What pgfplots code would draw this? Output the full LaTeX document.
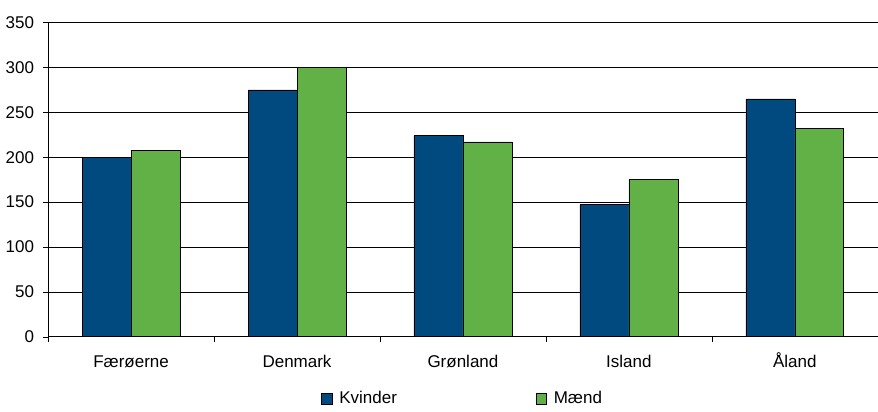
\documentclass[border=0pt]{standalone}
\usepackage{pgfplots}
\pgfplotsset{compat=1.18}
\usepackage{fontspec}
\setmainfont{Liberation Sans}
\definecolor{kb}{HTML}{004A7F}
\definecolor{mg}{HTML}{62B146}
\begin{document}
\fontsize{12.5}{15}\selectfont
\begin{tikzpicture}
\begin{axis}[
  scale only axis, width=610pt, height=231pt,
  ybar=0pt, bar width=36pt,
  xmin=-0.5, xmax=4.5, ymin=0, ymax=350,
  ytick={0,50,...,350},
  ymajorgrids, grid style={black, thin},
  axis x line*=bottom, axis y line*=left,
  xtick={0,...,4}, xticklabels={Færøerne,Denmark,Grønland,Island,Åland},
  xticklabel style={text height=10pt, text depth=2pt, yshift=-4pt},
  yticklabel style={xshift=-2pt},
  minor xtick={-0.5,0.5,...,4.5},
  major x tick style={draw=none},
  tick align=outside, tick style={black},
  minor tick length=4pt, major tick length=4pt,
  /pgf/number format/assume math mode=true,
  legend style={at={(0.5,-0.155)}, anchor=north, draw=none, legend columns=2,
    /tikz/every even column/.append style={column sep=100pt},
    /tikz/every odd column/.append style={column sep=3pt}},
  legend image code/.code={\draw[#1] (0cm,-0.14cm) rectangle (0.28cm,0.14cm);},
]
\addplot[fill=kb, draw=black, line width=0.4pt] coordinates {(0,200) (1,275) (2,224) (3,147) (4,265)};
\addplot[fill=mg, draw=black, line width=0.4pt] coordinates {(0,208) (1,300) (2,217) (3,175) (4,232)};
\legend{Kvinder,Mænd}
\end{axis}
\path (current bounding box.north) ++(0,8pt) coordinate;
\end{tikzpicture}
\end{document}
